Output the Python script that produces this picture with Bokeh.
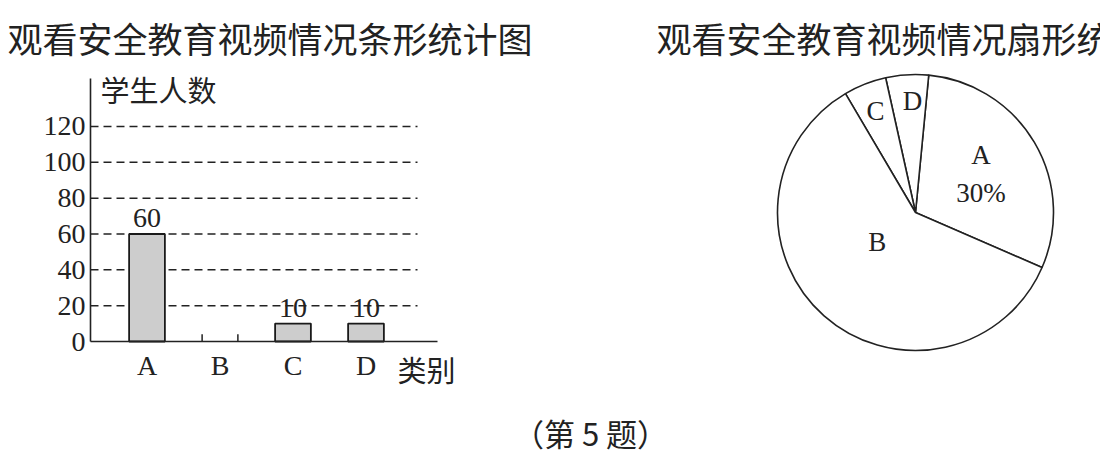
import math
from bokeh.plotting import figure
from bokeh.models import Range1d, FixedTicker, Label
from bokeh.embed import file_html
from bokeh.resources import INLINE
from bokeh.core.properties import value

# ---------------- data ----------------
categories = ["A", "B", "C", "D"]
counts = [60, None, 10, 10]          # B is left blank in the bar chart
y_ticks = [0, 20, 40, 60, 80, 100, 120]
share_A_pct = 30                     # A's share shown in the pie chart
bar_title = "观看安全教育视频情况条形统计图"
pie_title = "观看安全教育视频情况扇形统计图"
y_label = "学生人数"
x_label = "类别"
caption = "（第 5 题）"

# ---------------- styles / layout ----------------
INK = "#222222"
CJK = "Noto Sans CJK SC"
SERIF = "Liberation Serif"
W, H = 1100, 455

# bar chart scale: category spacing and value scale (pixels)
cat_px = 73.0
val_px = 1.7917
origin_x, origin_y = 146.5, 341.0     # pixel position of category A / value 0
bx0, bx1 = -origin_x / cat_px, (W - origin_x) / cat_px
by0, by1 = -(H - origin_y) / val_px, origin_y / val_px
axis_x = (90 - origin_x) / cat_px      # y-axis position (in category units)
axis_top = (origin_y - 78) / val_px
axis_right = (437 - origin_x) / cat_px
grid_end = (417 - origin_x) / cat_px

p = figure(width=W, height=H, x_range=Range1d(bx0, bx1), y_range=Range1d(by0, by1),
           output_backend="svg", toolbar_location=None, min_border=0)
p.outline_line_color = None
p.xgrid.visible = False
p.ygrid.visible = False
p.background_fill_color = "white"
p.border_fill_color = "white"

# dashed grid lines
grid_vals = [t for t in y_ticks if t > 0]
p.segment(x0=[axis_x] * len(grid_vals), y0=grid_vals, x1=[grid_end] * len(grid_vals),
          y1=grid_vals, line_color=INK, line_width=1.5, line_dash="8 5")

# bars
bx = [i for i, c in enumerate(counts) if c is not None]
bt = [c for c in counts if c is not None]
bar_w = 0.49
p.vbar(x=bx, top=bt, bottom=0, width=bar_w, fill_color="#cdcdcd",
       line_color="#1a1a1a", line_width=1.8)

# stub marks for the blank bar B
for i in [i for i, c in enumerate(counts) if c is None]:
    p.segment(x0=[i - bar_w / 2, i + bar_w / 2], x1=[i - bar_w / 2, i + bar_w / 2],
              y0=[0, 0], y1=[4, 4], line_color=INK, line_width=1.5)

# value labels, centred 16 px above each bar
lab_gap = 16 / val_px
p.text(x=bx, y=[v + lab_gap for v in bt], text=[str(v) for v in bt], text_align="center",
       text_baseline="middle", text_font=value(SERIF),
       text_font_size="28px", text_color=INK)

# axes drawn at fixed locations inside the canvas
yax = p.yaxis[0]
xax = p.xaxis[0]
yax.fixed_location = axis_x
yax.bounds = (0, axis_top)
yax.ticker = FixedTicker(ticks=y_ticks)
xax.fixed_location = 0
xax.bounds = (axis_x, axis_right)
xax.ticker = FixedTicker(ticks=list(range(len(categories))))
xax.major_label_overrides = {i: c for i, c in enumerate(categories)}
for ax in (xax, yax):
    ax.major_tick_line_color = None
    ax.minor_tick_line_color = None
    ax.major_tick_out = 0
    ax.major_tick_in = 0
    ax.axis_line_color = INK
    ax.axis_line_width = 1.6
    ax.major_label_text_font = SERIF
    ax.major_label_text_font_size = "28px"
    ax.major_label_text_color = INK
yax.major_label_standoff = 5
xax.major_label_standoff = 8

p.add_layout(Label(x=axis_x + 10 / cat_px, y=(origin_y - 88) / val_px, text=y_label,
                   text_font=CJK, text_font_size="29px", text_color=INK,
                   text_baseline="middle"))
p.add_layout(Label(x=(397 - origin_x) / cat_px, y=-(368 - origin_y) / val_px, text=x_label,
                   text_font=CJK, text_font_size="29px", text_color=INK,
                   text_baseline="middle"))

# ---------------- pie chart (own ranges, unit = radius) ----------------
total = counts[0] * 100 / share_A_pct
pie_vals = [counts[0], total - sum(c for c in counts if c is not None), counts[2], counts[3]]

r_px = 138.0
cx_px, cy_px = 915.0, 212.0
p.extra_x_ranges = {"pie": Range1d(-cx_px / r_px, (W - cx_px) / r_px)}
p.extra_y_ranges = {"pie": Range1d(-(H - cy_px) / r_px, cy_px / r_px)}

order = [0, 3, 2, 1]  # counter-clockwise: A, D, C, B
a0 = math.radians(-23.5)
starts, ends, mids = {}, {}, {}
cur = a0
for i in order:
    span = 2 * math.pi * pie_vals[i] / total
    starts[i], ends[i] = cur, cur + span
    mids[i] = cur + span / 2
    cur += span

p.wedge(x=0, y=0, radius=1, start_angle=[starts[i] for i in order],
        end_angle=[ends[i] for i in order], fill_color="white",
        line_color=INK, line_width=1.6, x_range_name="pie", y_range_name="pie")

lab_r = {0: 0.55, 1: 0.35, 2: 0.79, 3: 0.81}
lab_shift = {0: 0.0, 1: math.radians(-11), 2: 0.0, 3: math.radians(-2)}
lab_text = {0: f"{categories[0]}\n{share_A_pct}%", 1: categories[1],
            2: categories[2], 3: categories[3]}
lx = [lab_r[i] * math.cos(mids[i] + lab_shift[i]) for i in range(4)]
ly = [lab_r[i] * math.sin(mids[i] + lab_shift[i]) for i in range(4)]
p.text(x=lx, y=ly, text=[lab_text[i] for i in range(4)], text_align="center",
       text_baseline="middle", text_font=value(SERIF), text_font_size="27px",
       text_color=INK, text_line_height=1.25, x_range_name="pie", y_range_name="pie")

# ---------------- titles and caption ----------------
p.add_layout(Label(x=7, y=H - 37, x_units="screen", y_units="screen", text=bar_title,
                   text_font=CJK, text_font_size="35px", text_color=INK,
                   text_baseline="middle"))
p.add_layout(Label(x=656, y=H - 37, x_units="screen", y_units="screen", text=pie_title,
                   text_font=CJK, text_font_size="35px", text_color=INK,
                   text_baseline="middle"))
p.add_layout(Label(x=590, y=H - 432, x_units="screen", y_units="screen", text=caption,
                   text_font=CJK, text_font_size="31px", text_color=INK,
                   text_align="center", text_baseline="middle"))

open("out.html", "w").write(file_html(p, INLINE))
